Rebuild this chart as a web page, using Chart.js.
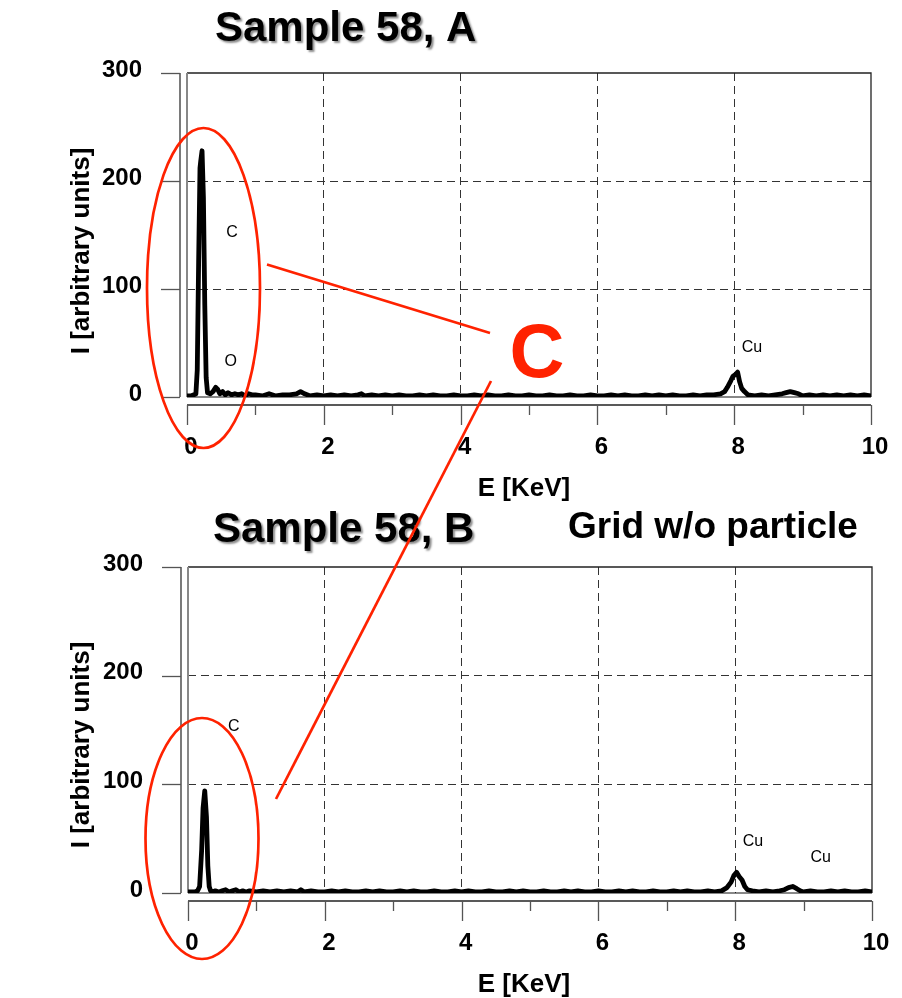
<!DOCTYPE html>
<html>
<head>
<meta charset="utf-8">
<script src="https://cdn.jsdelivr.net/npm/chart.js@4.4.1/dist/chart.umd.min.js"></script>
<style>
  html, body { margin: 0; padding: 0; background: #fff; }
  #wrap { position: relative; width: 902px; height: 998px; overflow: hidden; }
  #c1 { position: absolute; left: 0; top: 0; }
  #c2 { position: absolute; left: 0; top: 496px; }
  #ann { position: absolute; left: 0; top: 0; pointer-events: none; }
</style>
</head>
<body>
<div id="wrap">
  <canvas id="c1" width="902" height="502"></canvas>
  <canvas id="c2" width="902" height="502"></canvas>
  <svg id="ann" width="902" height="998" viewBox="0 0 902 998">
    <ellipse cx="203.5" cy="288" rx="56.5" ry="160" fill="none" stroke="#ff2200" stroke-width="2.7"/>
    <ellipse cx="202" cy="838.5" rx="56.5" ry="120.5" fill="none" stroke="#ff2200" stroke-width="2.7"/>
    <line x1="267" y1="264.5" x2="490" y2="333" stroke="#ff2200" stroke-width="2.7"/>
    <line x1="491" y1="381" x2="276" y2="799" stroke="#ff2200" stroke-width="2.7"/>
    <text x="537" y="377" text-anchor="middle" font-family="Arial, 'Liberation Sans', sans-serif" font-weight="bold" font-size="76" fill="#ff2200">C</text>
  </svg>
</div>
<script>
// ---------- DATA ----------
const xTickValues = [0, 2, 4, 6, 8, 10];
const yTickValues = [0, 100, 200, 300];

// Spectrum A (Sample 58, A): energy [keV] and intensity
const energyA = [
  0.00, 0.05, 0.10, 0.13, 0.15, 0.17, 0.19, 0.20, 0.22, 0.24,
  0.26, 0.28, 0.30, 0.34, 0.38, 0.42, 0.45, 0.48, 0.52, 0.56,
  0.60, 0.65, 0.70, 0.75, 0.80, 0.85, 0.90, 0.95, 1.00, 1.10,
  1.20, 1.30, 1.40, 1.50, 1.60, 1.66, 1.72, 1.80, 1.90, 2.00,
  2.10, 2.20, 2.30, 2.40, 2.50, 2.55, 2.60, 2.70, 2.80, 2.90,
  3.00, 3.10, 3.20, 3.30, 3.40, 3.50, 3.60, 3.70, 3.80, 3.90,
  4.00, 4.10, 4.20, 4.30, 4.40, 4.50, 4.60, 4.70, 4.80, 4.90,
  5.00, 5.10, 5.20, 5.30, 5.40, 5.50, 5.60, 5.70, 5.80, 5.90,
  6.00, 6.10, 6.20, 6.30, 6.40, 6.50, 6.60, 6.70, 6.80, 6.90,
  7.00, 7.10, 7.20, 7.30, 7.40, 7.50, 7.60, 7.70, 7.80, 7.86,
  7.90, 7.95, 7.98, 8.02, 8.05, 8.08, 8.11, 8.15, 8.20, 8.30,
  8.40, 8.50, 8.60, 8.70, 8.76, 8.82, 8.88, 8.94, 9.00, 9.10,
  9.20, 9.30, 9.40, 9.50, 9.60, 9.70, 9.80, 9.90, 10.00
];
const countsA = [
  1, 1, 2, 3, 25, 125, 212, 218, 228, 185,
  85, 18, 4, 3, 5, 9, 7, 3, 5, 2,
  4, 2, 3, 2, 3, 1, 3, 2, 2, 1,
  3, 1, 2, 2, 3, 5, 3, 1, 2, 1,
  2, 1, 2, 1, 2, 3, 1, 2, 1, 2,
  1, 2, 1, 1, 2, 1, 2, 1, 1, 2,
  1, 1, 2, 1, 2, 1, 1, 2, 1, 1,
  2, 1, 1, 2, 1, 1, 2, 1, 1, 2,
  1, 1, 2, 1, 2, 1, 1, 2, 1, 2,
  1, 2, 1, 1, 2, 1, 2, 2, 3, 5,
  9, 15, 19, 21, 23, 14, 8, 5, 2, 1,
  2, 1, 2, 3, 4, 5, 4, 3, 1, 2,
  1, 2, 1, 2, 1, 2, 1, 2, 1
];

// Spectrum B (Sample 58, B – grid w/o particle)
const energyB = [
  0.00, 0.05, 0.10, 0.14, 0.17, 0.20, 0.22, 0.245, 0.27, 0.29,
  0.31, 0.33, 0.36, 0.40, 0.45, 0.50, 0.55, 0.60, 0.65, 0.70,
  0.75, 0.80, 0.85, 0.90, 1.00, 1.10, 1.20, 1.30, 1.40, 1.50,
  1.60, 1.65, 1.70, 1.80, 1.90, 2.00, 2.10, 2.20, 2.30, 2.40,
  2.50, 2.60, 2.70, 2.80, 2.90, 3.00, 3.10, 3.20, 3.30, 3.40,
  3.50, 3.60, 3.70, 3.80, 3.90, 4.00, 4.10, 4.20, 4.30, 4.40,
  4.50, 4.60, 4.70, 4.80, 4.90, 5.00, 5.10, 5.20, 5.30, 5.40,
  5.50, 5.60, 5.70, 5.80, 5.90, 6.00, 6.10, 6.20, 6.30, 6.40,
  6.50, 6.60, 6.70, 6.80, 6.90, 7.00, 7.10, 7.20, 7.30, 7.40,
  7.50, 7.60, 7.70, 7.80, 7.88, 7.94, 7.98, 8.02, 8.06, 8.10,
  8.14, 8.18, 8.25, 8.35, 8.45, 8.55, 8.65, 8.72, 8.78, 8.84,
  8.90, 8.95, 9.00, 9.10, 9.20, 9.30, 9.40, 9.50, 9.60, 9.70,
  9.80, 9.90, 10.00
];
const countsB = [
  1, 1, 1, 2, 6, 40, 78, 94, 70, 25,
  6, 2, 1, 2, 1, 2, 3, 1, 2, 3,
  1, 2, 1, 2, 1, 2, 1, 2, 1, 2,
  1, 3, 1, 2, 1, 1, 2, 1, 2, 1,
  1, 2, 1, 2, 1, 1, 2, 1, 2, 1,
  1, 2, 1, 1, 2, 1, 2, 1, 1, 2,
  1, 1, 2, 1, 2, 1, 1, 2, 1, 1,
  2, 1, 2, 1, 1, 2, 1, 1, 2, 1,
  2, 1, 1, 2, 1, 1, 2, 1, 2, 1,
  1, 2, 1, 2, 5, 10, 16, 19, 15, 12,
  6, 3, 2, 1, 2, 1, 2, 3, 5, 6,
  4, 2, 1, 2, 1, 1, 2, 1, 2, 1,
  1, 2, 1
];

// Peak labels: [text, energy, intensity]
const labelsA = [["C", 0.66, 152], ["O", 0.64, 33], ["Cu", 8.26, 46]];
const labelsB = [["C", 0.67, 153], ["Cu", 8.26, 47], ["Cu", 9.25, 33]];

const titleA = "Sample 58, A";
const titleB = "Sample 58, B";
const subTitleB = "Grid w/o particle";
const xAxisTitle = "E [KeV]";
const yAxisTitle = "I [arbitrary units]";

// ---------- RENDERING ----------
const FONT = 'Arial, "Liberation Sans", Helvetica, sans-serif';

function toPoints(xs, ys) { return xs.map((x, i) => ({ x: x, y: ys[i] })); }

function makeChart(canvasId, xs, ys, peakLabels, titles, frame) {
  const H = frame.height;
  const decor = {
    id: 'decor_' + canvasId,
    beforeDatasetsDraw(chart) {
      const ctx = chart.ctx;
      const a = chart.chartArea;
      const xs_ = chart.scales.x, ys_ = chart.scales.y;
      ctx.save();
      ctx.setLineDash([]);
      // plot frame
      ctx.strokeStyle = '#222';
      ctx.lineWidth = 1.3;
      ctx.beginPath();
      ctx.moveTo(a.left, a.top); ctx.lineTo(a.right, a.top); ctx.lineTo(a.right, a.bottom);
      ctx.stroke();
      ctx.strokeStyle = '#111';
      ctx.lineWidth = 1;
      ctx.beginPath();
      ctx.moveTo(a.left, a.bottom); ctx.lineTo(a.right, a.bottom);
      ctx.stroke();
      ctx.strokeStyle = '#888';
      ctx.lineWidth = 2;
      ctx.beginPath();
      ctx.moveTo(a.left, a.top); ctx.lineTo(a.left, a.bottom);
      ctx.stroke();
      // detached y axis
      const yx = a.left - 7;
      ctx.strokeStyle = '#333';
      ctx.lineWidth = 1.3;
      ctx.beginPath();
      ctx.moveTo(yx, ys_.getPixelForValue(300)); ctx.lineTo(yx, ys_.getPixelForValue(0));
      ctx.stroke();
      ctx.strokeStyle = '#555';
      yTickValues.forEach(v => {
        const py = Math.round(ys_.getPixelForValue(v)) + 0.5;
        ctx.beginPath(); ctx.moveTo(yx - 19, py); ctx.lineTo(yx, py); ctx.stroke();
      });
      // detached x axis
      const xy = a.bottom + 8;
      ctx.strokeStyle = '#222';
      ctx.lineWidth = 1.3;
      ctx.beginPath();
      ctx.moveTo(xs_.getPixelForValue(0), xy); ctx.lineTo(xs_.getPixelForValue(10), xy);
      ctx.stroke();
      ctx.strokeStyle = '#555';
      for (let v = 0; v <= 10; v++) {
        const px = Math.round(xs_.getPixelForValue(v)) + 0.5;
        const len = (v % 2 === 0) ? 20 : 10;
        ctx.beginPath(); ctx.moveTo(px, xy); ctx.lineTo(px, xy + len); ctx.stroke();
      }
      ctx.restore();
    },
    afterDraw(chart) {
      const ctx = chart.ctx;
      const xs_ = chart.scales.x, ys_ = chart.scales.y;
      ctx.save();
      // peak labels
      ctx.fillStyle = '#000';
      ctx.font = '16px ' + FONT;
      ctx.textAlign = 'center';
      ctx.textBaseline = 'middle';
      peakLabels.forEach(([t, ex, iy]) => {
        ctx.fillText(t, xs_.getPixelForValue(ex), ys_.getPixelForValue(iy));
      });
      // axis titles
      ctx.font = 'bold 26px ' + FONT;
      ctx.fillText(xAxisTitle, 524, frame.xTitleY);
      ctx.save();
      ctx.translate(frame.yTitleX, frame.yTitleY);
      ctx.rotate(-Math.PI / 2);
      ctx.fillText(yAxisTitle, 0, 0);
      ctx.restore();
      // titles with soft shadow
      titles.forEach(t => {
        ctx.save();
        ctx.font = 'bold ' + t.size + 'px ' + FONT;
        ctx.textAlign = 'left';
        ctx.textBaseline = 'alphabetic';
        if (t.shadow) {
          ctx.shadowColor = 'rgba(0,0,0,0.45)';
          ctx.shadowOffsetX = 2; ctx.shadowOffsetY = 2; ctx.shadowBlur = 2;
        }
        ctx.fillStyle = '#000';
        ctx.fillText(t.text, t.x, t.y);
        ctx.restore();
      });
      ctx.restore();
    }
  };

  const gridColor = (ctx) => {
    const v = ctx.tick ? ctx.tick.value : null;
    if (v === null) return 'rgba(0,0,0,0)';
    return (v === ctx.scale.min || v === ctx.scale.max) ? 'rgba(0,0,0,0)' : '#333';
  };

  return new Chart(document.getElementById(canvasId), {
    type: 'line',
    data: {
      datasets: [{
        data: toPoints(xs, ys),
        borderColor: '#000',
        borderWidth: 4.8,
        pointRadius: 0,
        tension: 0,
        fill: false,
        borderJoinStyle: 'round'
      }]
    },
    options: {
      responsive: false,
      animation: false,
      layout: { padding: { left: 0, right: 902 - frame.right, top: frame.top, bottom: 0 } },
      plugins: { legend: { display: false }, tooltip: { enabled: false }, title: { display: false } },
      scales: {
        x: {
          type: 'linear', min: 0, max: 10,
          afterFit(s) { s.height = H - frame.bottom; s.paddingLeft = 0; s.paddingRight = 0; },
          afterBuildTicks(s) { s.ticks = xTickValues.map(v => ({ value: v })); },
          ticks: { font: { family: FONT, size: 24, weight: 'bold' }, color: '#000', padding: 36, labelOffset: 4, maxRotation: 0, autoSkip: false },
          grid: { drawTicks: false, color: gridColor, lineWidth: 1, borderDash: [8, 5] },
          border: { display: false, dash: [8, 5] }
        },
        y: {
          min: 0, max: 300,
          afterFit(s) { s.width = frame.left; s.paddingTop = 0; s.paddingBottom = 0; },
          afterBuildTicks(s) { s.ticks = yTickValues.map(v => ({ value: v })); },
          ticks: { font: { family: FONT, size: 24, weight: 'bold' }, color: '#000', padding: 45, labelOffset: -3 },
          grid: { drawTicks: false, color: gridColor, lineWidth: 1, borderDash: [8, 5] },
          border: { display: false, dash: [8, 5] }
        }
      }
    },
    plugins: [decor]
  });
}

makeChart('c1', energyA, countsA, labelsA,
  [{ text: titleA, x: 215, y: 41, size: 42, shadow: true }],
  { height: 502, left: 187, right: 871, top: 73, bottom: 397, xTitleY: 489, yTitleX: 82, yTitleY: 251 });

makeChart('c2', energyB, countsB, labelsB,
  [{ text: titleB, x: 213, y: 46, size: 42, shadow: true },
   { text: subTitleB, x: 568, y: 42, size: 37, shadow: false }],
  { height: 502, left: 188, right: 872, top: 71, bottom: 397, xTitleY: 489, yTitleX: 82, yTitleY: 249 });
</script>
</body>
</html>
